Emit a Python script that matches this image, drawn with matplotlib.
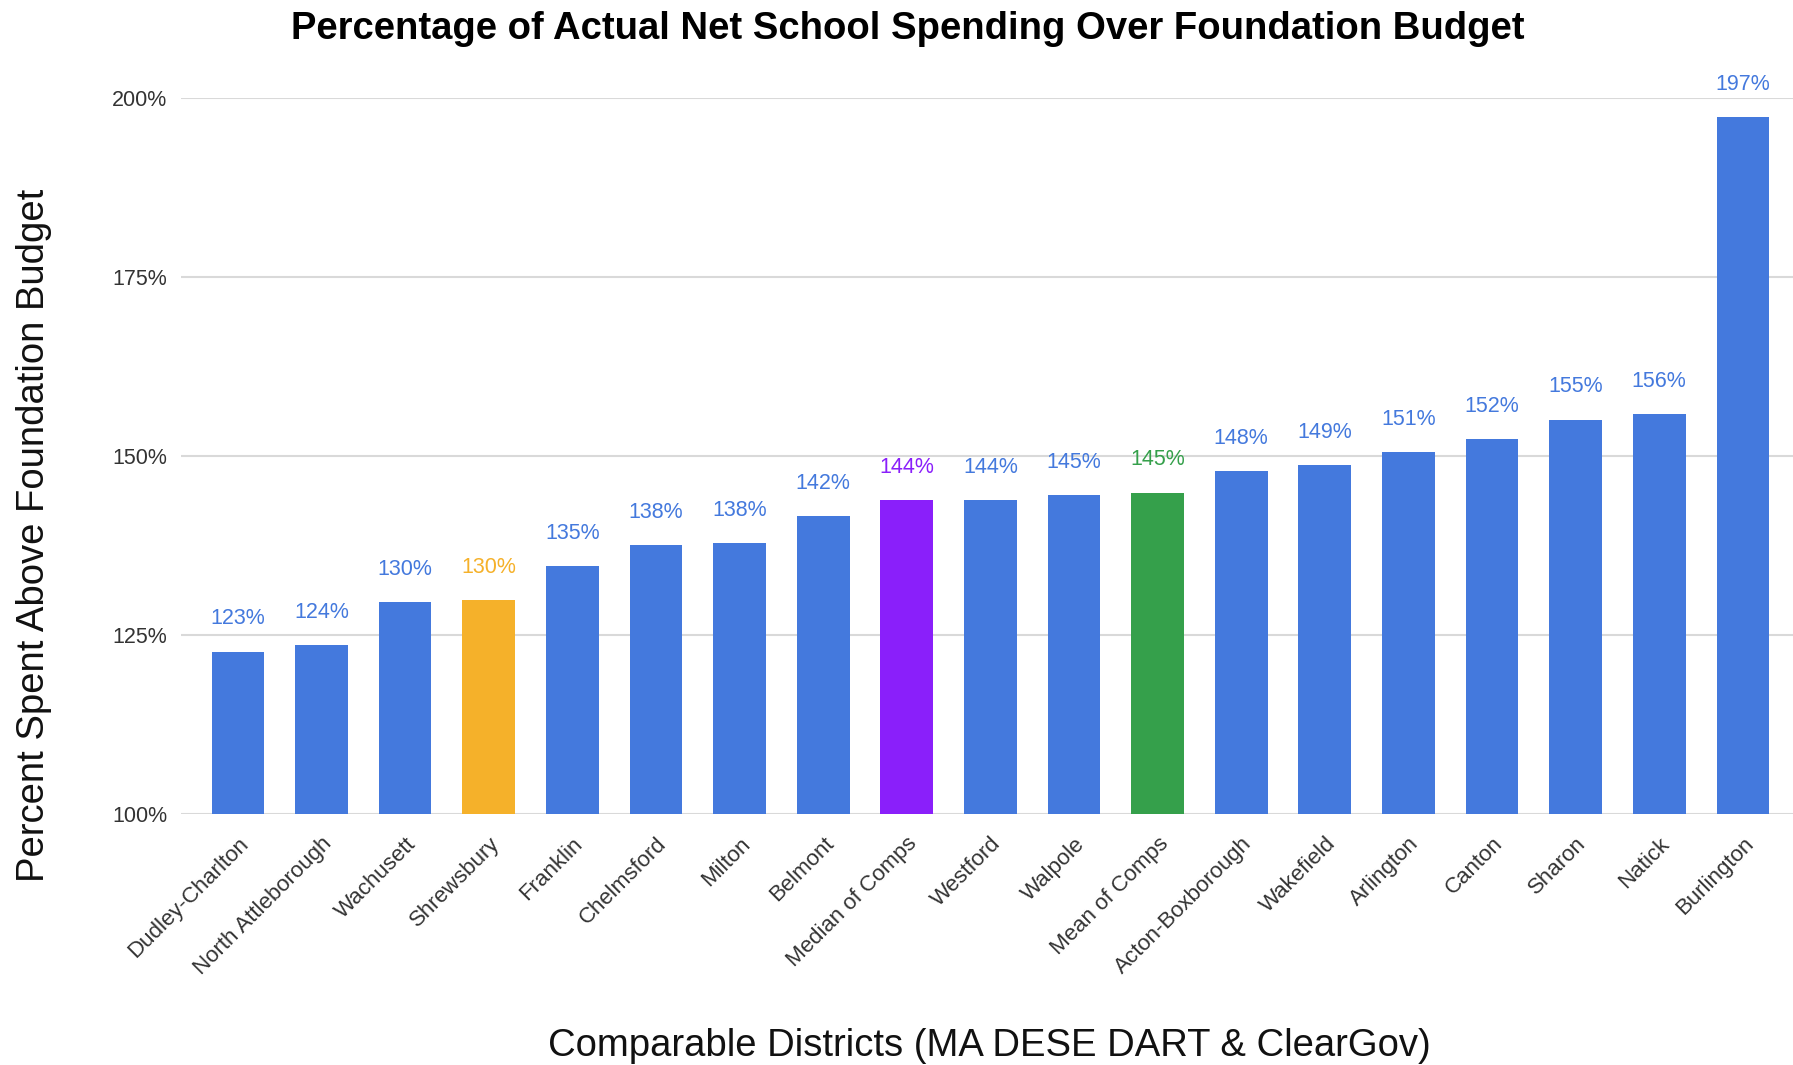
import numpy as np
import matplotlib.pyplot as plt

districts = ["Dudley-Charlton", "North Attleborough", "Wachusett", "Shrewsbury", "Franklin",
             "Chelmsford", "Milton", "Belmont", "Median of Comps", "Westford", "Walpole",
             "Mean of Comps", "Acton-Boxborough", "Wakefield", "Arlington", "Canton",
             "Sharon", "Natick", "Burlington"]
values = [122.7, 123.6, 129.6, 129.9, 134.6, 137.6, 137.9, 141.6, 143.9, 143.9, 144.6,
          144.9, 147.9, 148.7, 150.6, 152.4, 155.1, 155.9, 197.4]
labels = ["123%", "124%", "130%", "130%", "135%", "138%", "138%", "142%", "144%", "144%",
          "145%", "145%", "148%", "149%", "151%", "152%", "155%", "156%", "197%"]

blue = "#4479dd"
special = {"Shrewsbury": "#f5b12a", "Median of Comps": "#8a1ffa", "Mean of Comps": "#35a04b"}
colors = [special.get(d, blue) for d in districts]

plt.rcParams['font.family'] = ['Liberation Sans', 'DejaVu Sans']

fig = plt.figure(figsize=(17.93, 10.65), dpi=100)
ax = fig.add_axes([0.101, 0.2357, 0.899, 0.672])

x = np.arange(len(districts))
ax.bar(x, [v - 100 for v in values], bottom=100, width=0.63, color=colors, zorder=2)

for xi, v, lab, c in zip(x, values, labels, colors):
    ax.annotate(lab, (xi, v), xytext=(0, 16), textcoords="offset points",
                ha="center", va="bottom", fontsize=15.5, color=c, clip_on=False)

ax.set_ylim(100, 200)
ax.set_xlim(-0.68, 18.6)
ax.set_yticks([100, 125, 150, 175, 200])
ax.set_yticklabels(["100%", "125%", "150%", "175%", "200%"])
ax.grid(axis="y", color="#d9d9d9", lw=1.5, zorder=0)
for s in ax.spines.values():
    s.set_visible(False)
ax.tick_params(axis="both", length=0, labelsize=15.5, colors="#333333")
ax.tick_params(axis="y", pad=10)

ax.set_xticks(x)
ax.set_xticklabels(districts, rotation=45, ha="right", rotation_mode="anchor", fontsize=16)
ax.tick_params(axis="x", pad=14)

fig.text(0.506, 0.973, "Percentage of Actual Net School Spending Over Foundation Budget",
         ha="center", va="center", fontsize=27.5, fontweight="bold")
fig.text(0.019, 0.497, "Percent Spent Above Foundation Budget", rotation=90,
         ha="center", va="center", fontsize=27.5, color="#111111")
fig.text(0.552, 0.018, "Comparable Districts (MA DESE DART & ClearGov)",
         ha="center", va="center", fontsize=27.5, color="#111111")

fig.savefig("out.png", dpi=100)
